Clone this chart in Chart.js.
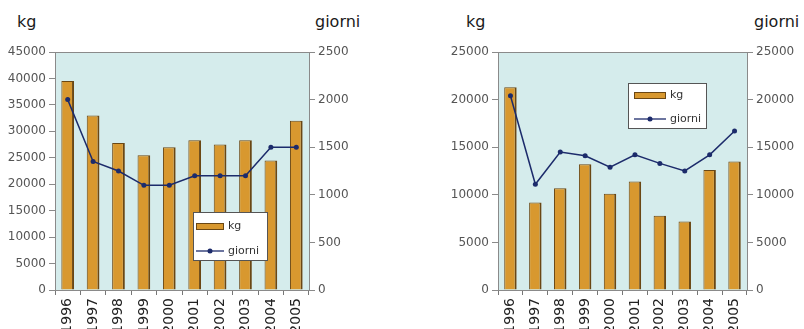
<!DOCTYPE html>
<html><head><meta charset="utf-8">
<script src="https://cdn.jsdelivr.net/npm/chart.js@4/dist/chart.umd.min.js"></script>
<style>
body{margin:0;background:#fff;width:804px;height:329px;overflow:hidden;position:relative;font-family:"DejaVu Sans",sans-serif;}
canvas{position:absolute;top:0;}
.t{position:absolute;top:14px;font-size:16px;line-height:16px;color:#1a1a1a;white-space:nowrap;}
</style></head><body>
<div class="t" style="left:17px">kg</div>
<div class="t" style="left:315px">giorni</div>
<div class="t" style="left:466px">kg</div>
<div class="t" style="left:754px">giorni</div>
<canvas id="c1" width="400" height="329" style="left:0"></canvas>
<canvas id="c2" width="404" height="329" style="left:400px"></canvas>
<script>
// ---- data ----
const years = ['1996','1997','1998','1999','2000','2001','2002','2003','2004','2005'];
const kgLeft = [39500, 33000, 27800, 25500, 27000, 28300, 27500, 28300, 24500, 32000];
const giorniLeft = [2000, 1350, 1250, 1100, 1100, 1200, 1200, 1200, 1500, 1500];
const kgRight = [21300, 9200, 10700, 13200, 10100, 11400, 7800, 7200, 12600, 13500];
const giorniRight = [20400, 11100, 14500, 14100, 12900, 14200, 13300, 12500, 14200, 16700];
const kgLeftAxis = {max: 45000, step: 5000};
const giorniLeftAxis = {max: 2500, step: 500};
const kgRightAxis = {max: 25000, step: 5000};
const giorniRightAxis = {max: 25000, step: 5000};
const seriesLabels = ['kg', 'giorni'];

Chart.defaults.font.family = '"DejaVu Sans", sans-serif';

const BAR_FILL = '#d8982f', BAR_EDGE = '#6a4714', LINE = '#1c2b6b', PLOT_BG = '#d5ecec', AXIS = '#8a8a8a';

const bgPlugin = {
  id: 'bg',
  beforeDraw(chart) {
    const {ctx, chartArea: a} = chart;
    ctx.save();
    ctx.fillStyle = PLOT_BG;
    ctx.fillRect(a.left, a.top, a.right - a.left, a.bottom - a.top);
    ctx.strokeStyle = AXIS; ctx.lineWidth = 1;
    ctx.beginPath(); ctx.moveTo(a.left, a.top + 0.5); ctx.lineTo(a.right, a.top + 0.5); ctx.stroke();
    ctx.restore();
  }
};

function legendPlugin(b) {
  return {
    id: 'lg',
    afterDatasetsDraw(chart) {
      const ctx = chart.ctx;
      const bar = chart.data.datasets[0], line = chart.data.datasets[1];
      ctx.save();
      ctx.fillStyle = '#fff';
      ctx.fillRect(b.x, b.y, b.w, b.h);
      ctx.strokeStyle = '#555'; ctx.lineWidth = 1;
      ctx.strokeRect(b.x + 0.5, b.y + 0.5, b.w, b.h);
      ctx.fillStyle = bar.backgroundColor;
      ctx.fillRect(b.x + b.sx, b.y1 - 3, b.sw, 7);
      ctx.strokeStyle = BAR_EDGE;
      ctx.strokeRect(b.x + b.sx + 0.5, b.y1 - 3 + 0.5, b.sw - 1, 6);
      ctx.strokeStyle = line.borderColor; ctx.lineWidth = 1.3;
      ctx.beginPath(); ctx.moveTo(b.x + b.sx, b.y2); ctx.lineTo(b.x + b.sx + b.sw, b.y2); ctx.stroke();
      ctx.fillStyle = line.borderColor;
      ctx.beginPath(); ctx.arc(b.x + b.sx + b.sw / 2, b.y2, 2.5, 0, Math.PI * 2); ctx.fill();
      ctx.fillStyle = '#333';
      ctx.font = '11px "DejaVu Sans", sans-serif';
      ctx.textBaseline = 'middle';
      ctx.fillText(bar.label, b.x + b.sx + b.sw + 4, b.y1);
      ctx.fillText(line.label, b.x + b.sx + b.sw + 4, b.y2);
      ctx.restore();
    }
  };
}

const plainNum = v => String(v);

function makeChart(id, kg, giorni, kgAxis, gAxis, leftW, rightW, legendBox) {
  return new Chart(document.getElementById(id), {
    data: {
      labels: years,
      datasets: [
        {type: 'bar', label: seriesLabels[0], data: kg, yAxisID: 'y', order: 2,
         backgroundColor: BAR_FILL, borderColor: BAR_EDGE,
         borderWidth: {left: 1, right: 2, top: 1, bottom: 0},
         barPercentage: 0.5, categoryPercentage: 1},
        {type: 'line', label: seriesLabels[1], data: giorni, yAxisID: 'y1', order: 1,
         borderColor: LINE, backgroundColor: LINE, borderWidth: 1.5,
         pointRadius: 2.5, pointBackgroundColor: LINE, pointBorderWidth: 0, tension: 0}
      ]
    },
    options: {
      responsive: false, animation: false, devicePixelRatio: 1,
      layout: {padding: {top: 52, left: 0, right: 0, bottom: 0}},
      plugins: {legend: {display: false}, tooltip: {enabled: false}},
      scales: {
        x: {
          offset: true,
          grid: {offset: true, drawOnChartArea: false, tickLength: 5, color: '#777'},
          border: {color: AXIS},
          ticks: {minRotation: 90, maxRotation: 90, autoSkip: false, padding: 3,
                  color: '#222', font: {size: 14}},
          afterFit: s => { s.height = 39; }
        },
        y: {
          position: 'left', min: 0, max: kgAxis.max,
          grid: {drawOnChartArea: false, tickLength: 6, color: AXIS},
          border: {color: AXIS},
          ticks: {stepSize: kgAxis.step, padding: 3, color: '#555', font: {size: 12}, callback: plainNum},
          afterFit: s => { s.width = leftW; }
        },
        y1: {
          position: 'right', min: 0, max: gAxis.max,
          grid: {drawOnChartArea: false, tickLength: 6, color: AXIS},
          border: {color: AXIS},
          ticks: {stepSize: gAxis.step, padding: 3, color: '#555', font: {size: 12}, callback: plainNum},
          afterFit: s => { s.width = rightW; }
        }
      }
    },
    plugins: [bgPlugin, legendPlugin(legendBox)]
  });
}

makeChart('c1', kgLeft, giorniLeft, kgLeftAxis, giorniLeftAxis, 55, 91,
  {x: 193, y: 212, w: 74, h: 48, sx: 3, sw: 28, y1: 226, y2: 251});
makeChart('c2', kgRight, giorniRight, kgRightAxis, giorniRightAxis, 98, 57,
  {x: 228, y: 83, w: 78, h: 45, sx: 6, sw: 32, y1: 95, y2: 119});
</script>
</body></html>
